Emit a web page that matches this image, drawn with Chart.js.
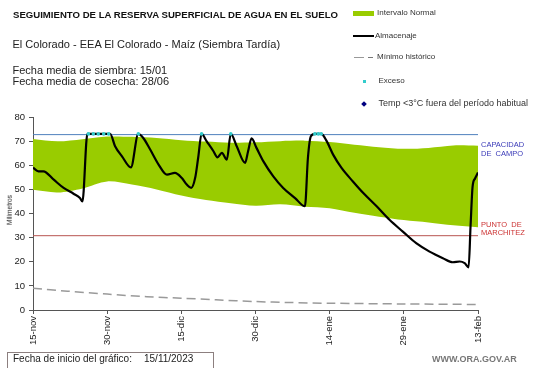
<!DOCTYPE html>
<html>
<head>
<meta charset="utf-8">
<script src="https://cdn.jsdelivr.net/npm/chart.js@4.4.1/dist/chart.umd.min.js"></script>
<style>
  body { margin: 0; background: #fff; }
  #wrap { position: relative; width: 541px; height: 368px; font-family: "Liberation Sans", Arial, sans-serif; color: #222; overflow: hidden; }
  #chart { position: absolute; left: 0; top: 0; }
  .t { position: absolute; white-space: nowrap; }
  .sw { position: absolute; }
</style>
</head>
<body>
<div id="wrap">
  <canvas id="chart" width="541" height="368"></canvas>

  <div class="t" style="left:13px;top:10.2px;font-size:9.6px;line-height:9.6px;font-weight:bold;color:#111;">SEGUIMIENTO DE LA RESERVA SUPERFICIAL DE AGUA EN EL SUELO</div>
  <div class="t" style="left:12.5px;top:39px;font-size:11px;line-height:11px;">El Colorado - EEA El Colorado - Maíz  (Siembra Tardía)</div>
  <div class="t" style="left:12.5px;top:64.7px;font-size:11px;line-height:11px;">Fecha media de siembra: 15/01</div>
  <div class="t" style="left:12.5px;top:76px;font-size:11px;line-height:11px;">Fecha media de cosecha: 28/06</div>

  <!-- legend -->
  <div class="sw" style="left:353px;top:10.5px;width:21px;height:5px;background:#99CC00;"></div>
  <div class="t" style="left:377px;top:9.3px;font-size:8px;line-height:8px;color:#333;">Intervalo Normal</div>
  <div class="sw" style="left:353px;top:34.5px;width:21px;height:2px;background:#000;"></div>
  <div class="t" style="left:375px;top:31.8px;font-size:8px;line-height:8px;color:#333;">Almacenaje</div>
  <div class="sw" style="left:354px;top:56.5px;width:10px;height:1.5px;background:#999;"></div>
  <div class="sw" style="left:368px;top:56.5px;width:5px;height:1.5px;background:#777;"></div>
  <div class="t" style="left:377px;top:53.1px;font-size:8px;line-height:8px;color:#333;">Mínimo histórico</div>
  <div class="sw" style="left:362.5px;top:79.5px;width:3px;height:3px;background:#33CCCC;"></div>
  <div class="t" style="left:378.5px;top:77.1px;font-size:8px;line-height:8px;color:#333;">Exceso</div>
  <div class="sw" style="left:362px;top:101.5px;width:4px;height:4px;background:#000080;transform:rotate(45deg);"></div>
  <div class="t" style="left:378.5px;top:99px;font-size:9px;line-height:9px;color:#333;">Temp &lt;3°C fuera del período habitual</div>

  <!-- right side labels -->
  <div class="t" style="left:481px;top:141.4px;font-size:7.5px;line-height:7.5px;color:#3a3ab8;">CAPACIDAD</div>
  <div class="t" style="left:481px;top:150.4px;font-size:7.5px;line-height:7.5px;color:#3a3ab8;">DE&nbsp; CAMPO</div>
  <div class="t" style="left:481px;top:220.7px;font-size:7.5px;line-height:7.5px;color:#cc3333;">PUNTO&nbsp; DE</div>
  <div class="t" style="left:481px;top:229.2px;font-size:7.5px;line-height:7.5px;color:#cc3333;">MARCHITEZ</div>

  <div class="t" style="left:10px;top:210px;font-size:6.5px;line-height:6.5px;transform:translate(-50%,-50%) rotate(-90deg);">Milímetros</div>

  <!-- footer -->
  <div class="sw" style="left:6.5px;top:351.5px;width:205px;height:15px;border:1px solid #8c7f7f;"></div>
  <div class="t" style="left:13px;top:354.3px;font-size:10px;line-height:10px;">Fecha de inicio del gráfico:</div>
  <div class="t" style="left:144px;top:354.3px;font-size:10px;line-height:10px;">15/11/2023</div>
  <div class="t" style="left:432px;top:355.4px;font-size:9px;line-height:9px;font-weight:bold;color:#777;">WWW.ORA.GOV.AR</div>
</div>

<script>
// x axis: days since 15/11/2023
var xTickLabels = ["15-nov", "30-nov", "15-dic", "30-dic", "14-ene", "29-ene", "13-feb"];

// Intervalo normal (upper / lower limits)
var bandDays  = [0, 5, 10, 15, 20, 25, 30, 35, 40, 45, 50, 55, 60, 65, 70, 75, 80, 85, 90];
var bandUpper = [70.9, 69.9, 70.8, 71.9, 71.8, 71.3, 70.4, 69.8, 69.3, 69.5, 70.0, 70.2, 69.6, 68.5, 67.5, 66.8, 67.2, 68.2, 68.1];
var bandLower = [49.8, 48.7, 50.4, 53.3, 52.0, 50.0, 47.5, 45.6, 44.3, 43.2, 43.8, 42.8, 42.2, 40.3, 38.7, 37.3, 36.3, 35.1, 34.3];

// Almacenaje
var almDays = [0, 1.1, 2.1, 4.2, 6.2, 8.2, 9.5, 10, 11, 12, 13, 14, 15.6, 16.6, 18, 19.8, 21.3, 22.3, 23.7, 25.4,
  27.1, 28.7, 30.1, 31.1, 32, 32.8, 33.4, 34.1, 35.1, 36.5, 37.3, 38.2, 39.2, 40, 41.2, 42.9, 43.5, 44.2, 45.2,
  46.6, 48.6, 50.6, 53, 55, 55.6, 56.2, 57, 58.3, 59.4, 60.7, 62.4, 64.7, 66.8, 69.5, 72.1, 74.8, 77.5, 80.2,
  82.9, 84.9, 86.3, 87.3, 88.1, 88.5, 88.9, 89.4, 90];
var almValues = [59, 57.5, 57.5, 54, 50.6, 48.2, 46.4, 45, 73, 73, 73, 73, 73, 67.9, 63.7, 59.1, 73, 71.3, 66.5, 60.3,
  56.1, 56.8, 54.7, 52, 50.6, 54.8, 63, 73, 70, 65.8, 63.3, 65.1, 62.3, 73, 67.9, 61, 65.8, 71.1, 67.2,
  61.6, 55.4, 50.6, 46.4, 43, 63, 72, 73, 73, 70, 64.4, 58.9, 53.3, 48.5, 43, 37.4, 32.5, 27.7, 24.2,
  21.5, 19.8, 20.1, 19.4, 17.7, 35, 51, 54.5, 57];

// Exceso
var excesoDays = [11.2, 12.2, 13.2, 14.3, 15.3, 21.3, 34.1, 40, 57, 57.7, 58.3];
var excesoValues = [73, 73, 73, 73, 73, 73, 73, 73, 73, 73, 73];

// Mínimo histórico
var minDays = [0, 7, 15, 23, 30, 37, 45, 52, 60, 75, 90];
var minValues = [9, 7.8, 6.6, 5.5, 4.9, 4.2, 3.5, 3.1, 2.8, 2.5, 2.3];

// reference levels
var capacidadCampo = 72.7;
var puntoMarchitez = 30.8;

function toPoints(xs, ys) {
  return xs.map(function (x, i) { return { x: x, y: ys[i] }; });
}

var ctx = document.getElementById("chart").getContext("2d");
var axisColor = "#555";

new Chart(ctx, {
  type: "line",
  data: {
    datasets: [
      {
        label: "Intervalo Normal",
        data: toPoints(bandDays, bandUpper),
        borderWidth: 0,
        borderColor: "rgba(0,0,0,0)",
        backgroundColor: "#99CC00",
        pointRadius: 0,
        fill: "+1",
        tension: 0.3,
        order: 10
      },
      {
        label: "lower",
        data: toPoints(bandDays, bandLower),
        borderWidth: 0,
        borderColor: "rgba(0,0,0,0)",
        pointRadius: 0,
        fill: false,
        tension: 0.3,
        order: 11
      },
      {
        label: "Capacidad de campo",
        data: toPoints([0, 90], [capacidadCampo, capacidadCampo]),
        borderColor: "#4F81BD",
        borderWidth: 1,
        pointRadius: 0,
        order: 5
      },
      {
        label: "Punto de marchitez",
        data: toPoints([0, 90], [puntoMarchitez, puntoMarchitez]),
        borderColor: "#B85450",
        borderWidth: 1,
        pointRadius: 0,
        order: 5
      },
      {
        label: "Mínimo histórico",
        data: toPoints(minDays, minValues),
        borderColor: "#9a9a9a",
        borderWidth: 1.5,
        borderDash: [9, 5],
        pointRadius: 0,
        tension: 0.3,
        order: 4
      },
      {
        label: "Almacenaje",
        data: toPoints(almDays, almValues),
        borderColor: "#000",
        borderWidth: 2.2,
        pointRadius: 0,
        cubicInterpolationMode: "monotone",
        order: 1
      },
      {
        label: "Exceso",
        data: toPoints(excesoDays, excesoValues),
        showLine: false,
        pointRadius: 1.8,
        pointBorderWidth: 0,
        pointBackgroundColor: "#33CCCC",
        order: 0
      }
    ]
  },
  options: {
    responsive: false,
    devicePixelRatio: 1,
    animation: false,
    layout: { padding: { top: 117, right: 63, left: 0, bottom: 0 } },
    plugins: { legend: { display: false }, tooltip: { enabled: false } },
    scales: {
      x: {
        type: "linear",
        min: 0,
        max: 90,
        afterFit: function (scale) { scale.height = 58; },
        ticks: {
          stepSize: 15,
          minRotation: 90,
          maxRotation: 90,
          padding: 2,
          color: "#222",
          font: { family: "Liberation Sans", size: 9.5 },
          callback: function (v) { return xTickLabels[Math.round(v / 15)]; }
        },
        grid: { drawOnChartArea: false, drawTicks: true, tickLength: 4, color: axisColor },
        border: { color: axisColor, width: 1 }
      },
      y: {
        min: 0,
        max: 80,
        afterFit: function (scale) { scale.width = 33; },
        ticks: {
          stepSize: 10,
          padding: 4,
          color: "#222",
          font: { family: "Liberation Sans", size: 9.5 }
        },
        grid: { drawOnChartArea: false, drawTicks: true, tickLength: 4, color: axisColor },
        border: { color: axisColor, width: 1 }
      }
    }
  }
});
</script>
</body>
</html>
